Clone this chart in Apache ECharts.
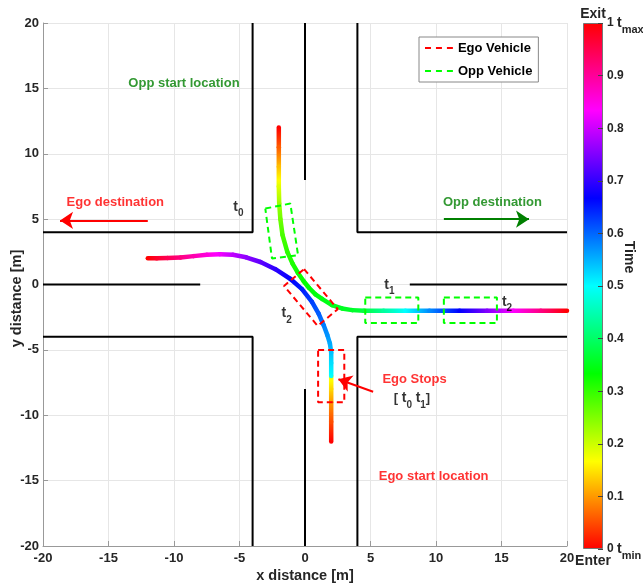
<!DOCTYPE html>
<html><head><meta charset="utf-8">
<script src="https://cdn.jsdelivr.net/npm/echarts@6/dist/echarts.min.js"></script>
<style>html,body{margin:0;padding:0;background:#fff}#c{width:643px;height:586px}</style>
</head><body><div id="c"></div>
<script>
// ---------------- data ----------------
const xTicks = [-20, -15, -10, -5, 0, 5, 10, 15, 20];
const yTicks = [-20, -15, -10, -5, 0, 5, 10, 15, 20];
const timeTicks = [0, 0.1, 0.2, 0.3, 0.4, 0.5, 0.6, 0.7, 0.8, 0.9, 1];

// Ego vehicle trajectory (x, y, normalised time)
const egoX = [2, 2, 2, 2, 2, 2, 2, 2, 1.9, 1.7, 1.42, 1.04, 0.53, -0.23, -1.11, -2.26, -3.4, -4.5, -5.5, -6.5, -7.5, -8.5, -9.5, -10.5, -11.3, -12];
const egoY = [-12, -10.5, -9, -8, -7, -7, -6, -5.2, -4.5, -3.85, -3.1, -2.22, -1.33, -0.35, 0.42, 1.17, 1.72, 2.08, 2.27, 2.32, 2.28, 2.17, 2.07, 2.02, 2.0, 2.0];
const egoT = [0, 0.05, 0.1, 0.14, 0.18, 0.5, 0.52, 0.54, 0.555, 0.57, 0.585, 0.605, 0.625, 0.648, 0.668, 0.695, 0.728, 0.76, 0.79, 0.825, 0.855, 0.885, 0.915, 0.945, 0.97, 1];

// Opponent vehicle trajectory
const oppX = [-2, -2, -2, -2, -1.97, -1.88, -1.72, -1.35, -0.95, -0.55, -0.1, 0.3, 0.8, 1.3, 2.06, 2.82, 3.6, 4.5, 6, 7.66, 9.5, 11.8, 13.9, 15.9, 18, 20];
const oppY = [12, 10.5, 9, 7.5, 6.2, 5, 3.8, 2.5, 1.6, 0.9, 0.25, -0.25, -0.75, -1.1, -1.58, -1.83, -1.96, -2, -2, -2, -2, -2, -2, -2, -2, -2];
const oppT = [0, 0.06, 0.125, 0.185, 0.23, 0.26, 0.285, 0.305, 0.315, 0.325, 0.33, 0.335, 0.34, 0.345, 0.35, 0.355, 0.36, 0.375, 0.435, 0.5, 0.575, 0.667, 0.75, 0.833, 0.915, 1];

// Road edges and centre lines
const roads = [
  [[-20, 4], [-4, 4], [-4, 20]],
  [[20, 4], [4, 4], [4, 20]],
  [[-20, -4], [-4, -4], [-4, -20]],
  [[20, -4], [4, -4], [4, -20]],
  [[0, 20], [0, 8]],
  [[0, -8], [0, -20]],
  [[-20, 0], [-8, 0]],
  [[8, 0], [20, 0]]
];

// Vehicle footprints (corner points)
const egoBoxes = [
  [[1, -5], [3, -5], [3, -9], [1, -9]],
  [[-0.07, 1.18], [2.5, -1.89], [0.97, -3.17], [-1.6, -0.11]]
];
const oppBoxes = [
  [[-3.03, 5.81], [-1.12, 6.19], [-0.53, 2.24], [-2.52, 1.99]],
  [[4.6, -1], [8.65, -1], [8.65, -2.95], [4.6, -2.95]],
  [[10.6, -1], [14.65, -1], [14.65, -2.95], [10.6, -2.95]]
];

// Arrows (from -> to)
const arrowFrom = [[-12, 4.9], [10.6, 5], [5.2, -8.2]];
const arrowTo = [[-18.7, 4.9], [17.1, 5], [2.55, -7.25]];

// Text annotations
const annoText = ['Opp start location', 'Ego destination', 'Opp destination', 'Ego Stops', '[ t_0 t_1]', 'Ego start location', 't_0', 't_1', 't_2', 't_2'];
const annoX = [-9.24, -14.48, 14.31, 8.36, 8.17, 9.82, -5.08, 6.44, 15.42, -1.4];
const annoY = [15.41, 6.24, 6.24, -7.26, -8.72, -14.66, 5.95, -0.05, -1.35, -2.2];

// ---------------- styles ----------------
const FONT = '"Liberation Sans", Arial, Helvetica, sans-serif';
const RED = '#ff0000', DGREEN = '#008000', LGREEN = '#00ff00';
const annoColors = [DGREEN, RED, DGREEN, RED, '#000', RED, '#000', '#000', '#000', '#000'];
const arrowColors = [RED, DGREEN, RED];
// dashed-line legend icon (tiny corner dots fix the bounding box)
const DASH_ICON = 'path://M0,0h0.05v0.05h-0.05z M0,14h0.05v0.05h-0.05z M0,6h6v2h-6z M11,6h6v2h-6z M22,6h6v2h-6z';

function hsv(t) {
  let h = t * 6; if (h >= 6) h -= 6; if (h < 0) h += 6;
  const i = Math.floor(h), f = h - i, q = 1 - f;
  let r, g, b;
  switch (i) {
    case 0: r = 1; g = f; b = 0; break;
    case 1: r = q; g = 1; b = 0; break;
    case 2: r = 0; g = 1; b = f; break;
    case 3: r = 0; g = q; b = 1; break;
    case 4: r = f; g = 0; b = 1; break;
    default: r = 1; g = 0; b = q;
  }
  const c = v => Math.round(v * 255);
  return 'rgb(' + c(r) + ',' + c(g) + ',' + c(b) + ')';
}
function segs(X, Y, T) {
  const out = [];
  for (let i = 0; i < X.length - 1; i++) out.push([X[i], Y[i], T[i], X[i + 1], Y[i + 1], T[i + 1]]);
  return out;
}
function closed(poly) { return poly.concat([poly[0]]); }
function richify(s) {
  return s.split(/(t_\w+)/).filter(p => p).map(p =>
    p.indexOf('t_') === 0 ? '{tt|t}{sb|' + p.slice(2) + '}' : '{pp|' + p + '}').join('');
}
function renderSeg(params, api) {
  const p1 = api.coord([api.value(0), api.value(1)]);
  const p2 = api.coord([api.value(3), api.value(4)]);
  const t1 = api.value(2), t2 = api.value(5);
  const dx = p2[0] - p1[0], dy = p2[1] - p1[1];
  if (dx * dx + dy * dy < 0.01) return { type: 'group', children: [] };
  const stops = [];
  const n = 6;
  for (let k = 0; k <= n; k++) stops.push({ offset: k / n, color: hsv(t1 + (t2 - t1) * k / n) });
  return {
    type: 'line',
    shape: { x1: p1[0], y1: p1[1], x2: p2[0], y2: p2[1] },
    style: { stroke: new echarts.graphic.LinearGradient(p1[0], p1[1], p2[0], p2[1], stops, true), lineWidth: 4.5, lineCap: 'round' }
  };
}

const RICH = {
  pp: { fontSize: 13, fontWeight: 'bold', fontFamily: FONT, verticalAlign: 'middle' },
  tt: { fontSize: 14, fontWeight: 'bold', fontFamily: FONT, verticalAlign: 'middle' },
  sb: { fontSize: 10, fontWeight: 'bold', fontFamily: FONT, verticalAlign: 'bottom', lineHeight: 23 }
};
const CB_RICH = {
  n: { fontSize: 12, fontWeight: 'bold', fontFamily: FONT, verticalAlign: 'middle', color: '#262626' },
  tt: { fontSize: 14, fontWeight: 'bold', fontFamily: FONT, verticalAlign: 'middle', color: '#262626' },
  sb: { fontSize: 11, fontWeight: 'bold', fontFamily: FONT, verticalAlign: 'bottom', lineHeight: 24, color: '#262626' }
};

const axisLabelStyle = { color: '#262626', fontWeight: 'bold', fontSize: 13, fontFamily: FONT };
const nameStyle = { color: '#262626', fontWeight: 'bold', fontSize: 14.5, fontFamily: FONT };

const series = [];
roads.forEach(r => series.push({
  type: 'line', xAxisIndex: 0, yAxisIndex: 0, data: r, symbol: 'none', showSymbol: false,
  lineStyle: { color: '#000', width: 2 }, silent: true, z: 2
}));
[[egoX, egoY, egoT], [oppX, oppY, oppT]].forEach(([X, Y, T]) => series.push({
  type: 'custom', xAxisIndex: 0, yAxisIndex: 0, renderItem: renderSeg,
  data: segs(X, Y, T), encode: { x: [0, 3], y: [1, 4] }, silent: true, z: 3
}));
egoBoxes.forEach(b => series.push({
  type: 'line', name: 'Ego Vehicle', xAxisIndex: 0, yAxisIndex: 0, data: closed(b), symbol: 'none', showSymbol: false,
  itemStyle: { color: RED }, lineStyle: { color: RED, width: 2, type: [6, 4] }, silent: true, z: 4
}));
oppBoxes.forEach(b => series.push({
  type: 'line', name: 'Opp Vehicle', xAxisIndex: 0, yAxisIndex: 0, data: closed(b), symbol: 'none', showSymbol: false,
  itemStyle: { color: LGREEN }, lineStyle: { color: LGREEN, width: 2, type: [6, 4] }, silent: true, z: 4
}));
arrowFrom.forEach((f, i) => series.push({
  type: 'lines', coordinateSystem: 'cartesian2d', xAxisIndex: 0, yAxisIndex: 0,
  symbol: ['none', 'arrow'], symbolSize: [9, 13],
  lineStyle: { color: arrowColors[i], width: 2, opacity: 1, curveness: 0 },
  data: [{ coords: [f, arrowTo[i]] }], silent: true, z: 6
}));
series.push({
  type: 'scatter', xAxisIndex: 0, yAxisIndex: 0, symbolSize: 1, itemStyle: { color: 'rgba(0,0,0,0)' },
  data: annoText.map((s, i) => ({ value: [annoX[i], annoY[i]], label: { color: annoColors[i] } })),
  label: { show: true, position: 'inside', fontFamily: FONT, fontWeight: 'bold', fontSize: 13,
    formatter: p => richify(annoText[p.dataIndex]), rich: RICH },
  silent: true, z: 7
});
// colour bar
const cbStops = [0, 1 / 6, 2 / 6, 3 / 6, 4 / 6, 5 / 6, 1].map(o => ({ offset: o, color: hsv(timeTicks[0] + o * (timeTicks[timeTicks.length - 1] - timeTicks[0])) }));
series.push({
  type: 'bar', xAxisIndex: 1, yAxisIndex: 1, data: [timeTicks[timeTicks.length - 1]], barWidth: '100%',
  itemStyle: { color: new echarts.graphic.LinearGradient(0, 1, 0, 0, cbStops), borderColor: '#777', borderWidth: 1 },
  silent: true, z: 2
});

const option = {
  animation: false,
  backgroundColor: '#fff',
  textStyle: { fontFamily: FONT },
  grid: [
    { left: 43, top: 23, width: 524, height: 523, outerBoundsMode: 'none', containLabel: false },
    { left: 583, top: 23, width: 20, height: 526, outerBoundsMode: 'none', containLabel: false }
  ],
  legend: {
    orient: 'vertical', left: 419, top: 37, itemWidth: 28, itemHeight: 14, itemGap: 9,
    padding: [4, 6, 4, 6], borderColor: '#888', borderWidth: 1, backgroundColor: '#fff',
    textStyle: { fontSize: 13, fontWeight: 'bold', color: '#000', fontFamily: FONT },
    data: [{ name: 'Ego Vehicle', icon: DASH_ICON }, { name: 'Opp Vehicle', icon: DASH_ICON }], selectedMode: false
  },
  xAxis: [
    {
      type: 'value', gridIndex: 0, min: xTicks[0], max: xTicks[xTicks.length - 1], interval: xTicks[1] - xTicks[0],
      axisLine: { show: true, onZero: false, lineStyle: { color: '#999', width: 1 } },
      axisTick: { show: true, inside: true, length: 5, lineStyle: { color: '#999' } },
      axisLabel: Object.assign({ margin: 6 }, axisLabelStyle),
      splitLine: { show: true, lineStyle: { color: '#e6e6e6', width: 1 } },
      name: 'x distance [m]', nameLocation: 'middle', nameGap: 22, nameMoveOverlap: false, nameTextStyle: nameStyle
    },
    {
      type: 'category', gridIndex: 1, data: [''], position: 'bottom',
      axisLine: { show: false }, axisTick: { show: false }, axisLabel: { show: false }, splitLine: { show: false },
      name: 'Enter', nameLocation: 'middle', nameGap: 5, nameMoveOverlap: false,
      nameTextStyle: { color: '#262626', fontWeight: 'bold', fontSize: 14, fontFamily: FONT }
    },
    {
      type: 'category', gridIndex: 1, data: [''], position: 'top',
      axisLine: { show: false }, axisTick: { show: false }, axisLabel: { show: false }, splitLine: { show: false },
      name: 'Exit', nameLocation: 'middle', nameGap: 2, nameMoveOverlap: false,
      nameTextStyle: { color: '#262626', fontWeight: 'bold', fontSize: 14, fontFamily: FONT }
    }
  ],
  yAxis: [
    {
      type: 'value', gridIndex: 0, min: yTicks[0], max: yTicks[yTicks.length - 1], interval: yTicks[1] - yTicks[0],
      axisLine: { show: true, onZero: false, lineStyle: { color: '#999', width: 1 } },
      axisTick: { show: true, inside: true, length: 5, lineStyle: { color: '#999' } },
      axisLabel: Object.assign({ margin: 4 }, axisLabelStyle),
      splitLine: { show: true, lineStyle: { color: '#e6e6e6', width: 1 } },
      name: 'y distance [m]', nameLocation: 'middle', nameGap: 19, nameMoveOverlap: false,
      nameTextStyle: Object.assign({ padding: [0, 28, 0, 0] }, nameStyle)
    },
    {
      type: 'value', gridIndex: 1, min: timeTicks[0], max: timeTicks[timeTicks.length - 1], interval: timeTicks[1] - timeTicks[0],
      position: 'right', z: 5,
      axisLine: { show: false },
      axisTick: { show: true, inside: true, length: 5, lineStyle: { color: '#444' } },
      splitLine: { show: false },
      axisLabel: {
        margin: 4, color: '#262626', fontWeight: 'bold', fontSize: 12, fontFamily: FONT, rich: CB_RICH,
        formatter: v => {
          if (Math.abs(v - 1) < 1e-9) return '{n|1 }{tt|t}{sb|max}';
          if (Math.abs(v) < 1e-9) return '{n|0 }{tt|t}{sb|min}';
          return '{n|' + (+v).toFixed(1) + '}';
        }
      },
      name: 'Time', nameLocation: 'middle', nameRotate: -90, nameGap: 19, nameMoveOverlap: false,
      nameTextStyle: { color: '#262626', fontWeight: 'bold', fontSize: 14, fontFamily: FONT, padding: [0, 58, 0, 0] }
    }
  ],
  series: series
};

const chart = echarts.init(document.getElementById('c'), null, { renderer: 'canvas', width: 643, height: 586 });
chart.setOption(option);
</script>
</body></html>
